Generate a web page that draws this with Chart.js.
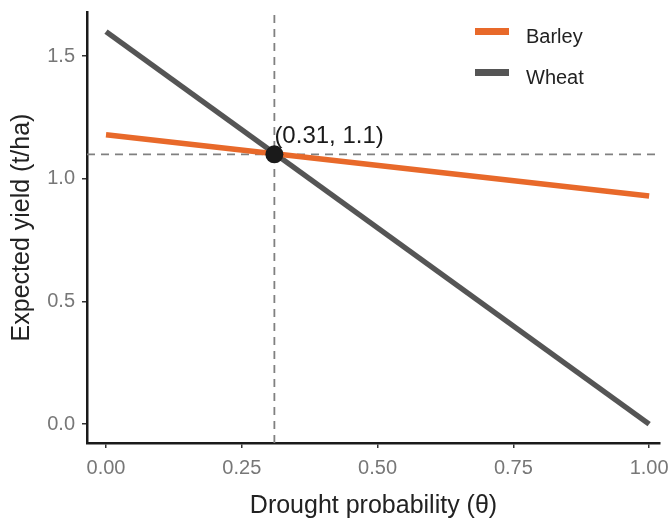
<!DOCTYPE html>
<html lang="en">
<head>
    <meta charset="UTF-8">
    <script src="https://cdn.jsdelivr.net/npm/chart.js"></script>
    <title>Expected yield</title>
    <style>
        body { margin: 0; background: #fff; }
        #box { width: 669px; height: 521px; }
    </style>
</head>
<body>
    <div id="box"><canvas id="grafico"></canvas></div>

<script>
    // data
    var theta = [0, 1];
    var barley = [1.18, 0.93];
    var wheat = [1.6, 0];
    var crossX = 0.31;
    var crossY = 1.1;
    var xTicks = [0, 0.25, 0.5, 0.75, 1];
    var yTicks = [0, 0.5, 1, 1.5];
    var xMin = -0.035, xMax = 1.02;
    var yMin = -0.077, yMax = 1.68;

    var fonte = "'Liberation Sans', Arial, sans-serif";

    function pontos(xs, ys) {
        var out = [];
        for (var i = 0; i < xs.length; i++) out.push({ x: xs[i], y: ys[i] });
        return out;
    }

    // legend + label drawn on the canvas
    var extras = {
        id: 'extras',
        afterDatasetsDraw: function (chart) {
            var ctx = chart.ctx;
            var sx = chart.scales.x, sy = chart.scales.y;
            ctx.save();
            ctx.fillStyle = '#1a1a1a';
            ctx.font = '24px ' + fonte;
            ctx.textBaseline = 'alphabetic';
            ctx.fillText('(' + crossX + ', ' + crossY + ')', sx.getPixelForValue(crossX) + 0, sy.getPixelForValue(crossY) - 11);

            var itens = [['Barley', '#e8692a'], ['Wheat', '#555555']];
            for (var i = 0; i < itens.length; i++) {
                var y = 28 + i * 41;
                ctx.fillStyle = itens[i][1];
                ctx.fillRect(475, y, 34, 7);
                ctx.fillStyle = '#222';
                ctx.font = '20px ' + fonte;
                ctx.textBaseline = 'alphabetic';
                ctx.fillText(itens[i][0], 526, y + 15);
            }
            ctx.restore();
        }
    };

    var config = {
        type: 'scatter',
        data: {
            datasets: [
                {
                    label: 'vline', order: 4,
                    data: [{ x: crossX, y: yMin }, { x: crossX, y: yMax }],
                    showLine: true, borderColor: '#808080', borderWidth: 1.8,
                    borderDash: [8, 6], pointRadius: 0
                },
                {
                    label: 'hline', order: 3,
                    data: [{ x: xMin, y: crossY }, { x: xMax, y: crossY }],
                    showLine: true, borderColor: '#808080', borderWidth: 1.8,
                    borderDash: [8, 6], pointRadius: 0
                },
                {
                    label: 'Wheat', order: 2,
                    data: pontos(theta, wheat),
                    showLine: true, borderColor: '#555555', borderWidth: 5.5,
                    pointRadius: 0
                },
                {
                    label: 'Barley', order: 1,
                    data: pontos(theta, barley),
                    showLine: true, borderColor: '#e8692a', borderWidth: 5.5,
                    pointRadius: 0
                },
                {
                    label: 'cross', order: 0,
                    data: [{ x: crossX, y: crossY }],
                    pointRadius: 9, backgroundColor: '#1a1a1a', borderWidth: 0
                }
            ]
        },
        options: {
            responsive: true,
            maintainAspectRatio: false,
            animation: false,
            layout: { padding: { top: 12, right: 4, left: 0, bottom: 0 } },
            plugins: {
                legend: { display: false },
                tooltip: { enabled: false }
            },
            scales: {
                x: {
                    type: 'linear', min: xMin, max: xMax,
                    afterBuildTicks: function (axis) { axis.ticks = xTicks.map(function (v) { return { value: v }; }); },
                    afterFit: function (axis) { axis.height = 78; axis.paddingLeft = 0; axis.paddingRight = 0; },
                    grid: { drawOnChartArea: false, drawTicks: true, tickLength: 5, color: '#333', lineWidth: 1.5 },
                    border: { display: true, color: '#1a1a1a', width: 2.5 },
                    ticks: {
                        color: '#777', font: { size: 20, family: fonte }, padding: 8,
                        callback: function (v) { return v.toFixed(2); }
                    },
                    title: { display: true, text: 'Drought probability (θ)', color: '#222', font: { size: 25, family: fonte }, padding: { top: 4, bottom: 0 } }
                },
                y: {
                    type: 'linear', min: yMin, max: yMax,
                    afterBuildTicks: function (axis) { axis.ticks = yTicks.map(function (v) { return { value: v }; }); },
                    afterFit: function (axis) { axis.width = 87; axis.paddingTop = 0; axis.paddingBottom = 0; },
                    grid: { drawOnChartArea: false, drawTicks: true, tickLength: 5, color: '#333', lineWidth: 1.5 },
                    border: { display: true, color: '#1a1a1a', width: 2.5 },
                    ticks: {
                        color: '#777', font: { size: 20, family: fonte }, padding: 7,
                        callback: function (v) { return v.toFixed(1); }
                    },
                    title: { display: true, text: 'Expected yield (t/ha)', color: '#222', font: { size: 25, family: fonte }, padding: { top: 7, bottom: 0 } }
                }
            }
        },
        plugins: [extras]
    };

    var meuGrafico = new Chart(document.getElementById('grafico'), config);
</script>
</body>
</html>
